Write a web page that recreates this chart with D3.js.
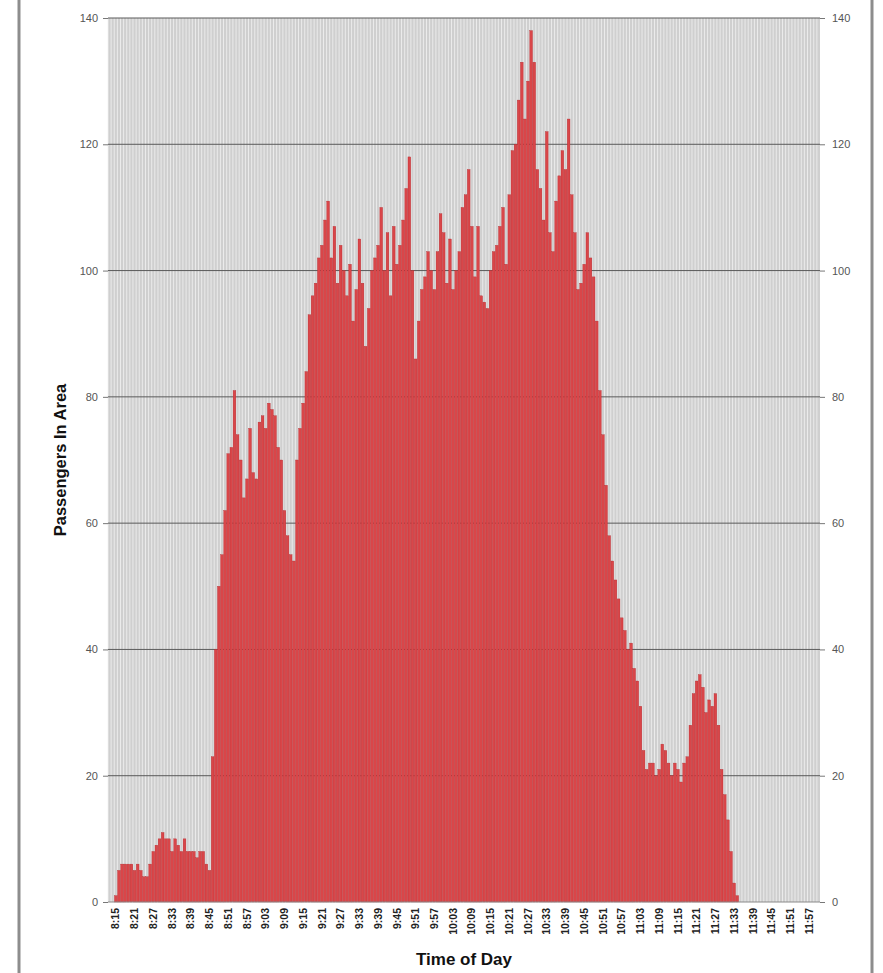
<!DOCTYPE html>
<html>
<head>
<meta charset="utf-8">
<script src="https://cdn.jsdelivr.net/npm/d3@7/dist/d3.min.js"></script>
<style>
  html, body { margin: 0; padding: 0; background: #fff; }
  svg { display: block; font-family: Arial, "Liberation Sans", sans-serif; }
</style>
</head>
<body>
<svg id="chart" width="883" height="973"></svg>
<script>
// Passengers counted in the area, one reading per minute from 8:13 to 12:00
const firstMinute = "8:13";
const lastMinute = "12:00";

const passengers = [
  0, 0, 1, 5, 6, 6, 6, 6, 5, 6,
  5, 4, 4, 6, 8, 9, 10, 11, 10, 10,
  8, 10, 9, 8, 10, 8, 8, 8, 7, 8,
  8, 6, 5, 23, 40, 50, 55, 62, 71, 72,
  81, 74, 70, 64, 67, 75, 68, 67, 76, 77,
  75, 79, 78, 77, 72, 70, 62, 58, 55, 54,
  70, 75, 79, 84, 93, 96, 98, 102, 104, 108,
  111, 102, 107, 98, 104, 100, 96, 101, 92, 97,
  105, 98, 88, 94, 100, 102, 104, 110, 100, 106,
  96, 107, 101, 104, 108, 113, 118, 100, 86, 92,
  97, 99, 103, 100, 97, 103, 109, 106, 98, 105,
  97, 100, 103, 110, 112, 116, 107, 99, 107, 96,
  95, 94, 100, 103, 104, 107, 110, 101, 112, 119,
  120, 127, 133, 124, 130, 138, 133, 116, 113, 108,
  122, 106, 103, 111, 115, 119, 116, 124, 112, 106,
  97, 98, 101, 106, 102, 99, 92, 81, 74, 66,
  58, 54, 51, 48, 45, 43, 40, 41, 37, 35,
  31, 24, 21, 22, 22, 20, 21, 25, 24, 22,
  20, 22, 21, 19, 22, 23, 28, 33, 35, 36,
  34, 30, 32, 31, 33, 28, 21, 17, 13, 8,
  3, 1, 0, 0, 0, 0, 0, 0, 0, 0,
  0, 0, 0, 0, 0, 0, 0, 0, 0, 0,
  0, 0, 0, 0, 0, 0, 0, 0
];

const timeTicks = [
  "8:15", "8:21", "8:27", "8:33", "8:39", "8:45", "8:51", "8:57",
  "9:03", "9:09", "9:15", "9:21", "9:27", "9:33", "9:39", "9:45",
  "9:51", "9:57", "10:03", "10:09", "10:15", "10:21", "10:27", "10:33",
  "10:39", "10:45", "10:51", "10:57", "11:03", "11:09", "11:15", "11:21",
  "11:27", "11:33", "11:39", "11:45", "11:51", "11:57"
];

const yTicks = [0, 20, 40, 60, 80, 100, 120, 140];

// Build the minute categories for the band scale
const parseHM = d3.timeParse("%H:%M");
const fmtHM = d => d.getHours() + ":" + d3.timeFormat("%M")(d);
const minutes = d3.timeMinute.range(parseHM(firstMinute), d3.timeMinute.offset(parseHM(lastMinute), 1)).map(fmtHM);
const data = minutes.map((m, i) => ({ time: m, value: passengers[i] }));

const svg = d3.select("#chart");
const plot = { left: 108, right: 820, top: 18, bottom: 902 };
const font = "Arial, 'Liberation Sans', sans-serif";

const x = d3.scaleBand().domain(minutes).range([plot.left, plot.right]).paddingInner(0.12).paddingOuter(0.06);
const y = d3.scaleLinear().domain([0, 140]).range([plot.bottom, plot.top]);

// Outer frame edges
svg.append("line").attr("x1", 19).attr("x2", 19).attr("y1", 0).attr("y2", 973)
  .attr("stroke", "#8d8d8d").attr("stroke-width", 3);
svg.append("line").attr("x1", 872).attr("x2", 872).attr("y1", 0).attr("y2", 973)
  .attr("stroke", "#8d8d8d").attr("stroke-width", 3);

// Plot background
svg.append("rect")
  .attr("x", plot.left).attr("y", plot.top)
  .attr("width", plot.right - plot.left).attr("height", plot.bottom - plot.top)
  .attr("fill", "#cfcfcf");

// Light vertical separators between minute categories
const step = x.step();
svg.append("g").selectAll("line")
  .data(minutes)
  .join("line")
  .attr("x1", d => x(d) - step * x.paddingInner() / 2)
  .attr("x2", d => x(d) - step * x.paddingInner() / 2)
  .attr("y1", plot.top).attr("y2", plot.bottom)
  .attr("stroke", "#f4f4f4").attr("stroke-width", 0.9).attr("opacity", 0.85);

// Horizontal gridlines
svg.append("g").selectAll("line")
  .data(yTicks.filter(v => v > 0))
  .join("line")
  .attr("x1", plot.left).attr("x2", plot.right)
  .attr("y1", d => y(d)).attr("y2", d => y(d))
  .attr("stroke", "#5a5a5a").attr("stroke-width", 1);

// Bars
svg.append("g").selectAll("rect")
  .data(data.filter(d => d.value > 0))
  .join("rect")
  .attr("x", d => x(d.time))
  .attr("width", x.bandwidth())
  .attr("y", d => y(d.value))
  .attr("height", d => y(0) - y(d.value))
  .attr("fill", "#d94649")
  .attr("stroke", "#b3272c")
  .attr("stroke-width", 0.35);

// Baseline
svg.append("line").attr("x1", plot.left).attr("x2", plot.right)
  .attr("y1", y(0)).attr("y2", y(0)).attr("stroke", "#8a8a8a").attr("stroke-width", 1);

// Left value axis
const leftAxis = d3.axisLeft(y).tickValues(yTicks).tickSize(5).tickPadding(5);
const gl = svg.append("g").attr("transform", `translate(${plot.left},0)`).call(leftAxis);
gl.select(".domain").remove();
gl.selectAll(".tick line").attr("stroke", "#777");
gl.selectAll(".tick text").attr("font-size", 11).attr("fill", "#555").attr("font-family", font);

// Right value axis
const rightAxis = d3.axisRight(y).tickValues(yTicks).tickSize(5).tickPadding(7);
const gr = svg.append("g").attr("transform", `translate(${plot.right},0)`).call(rightAxis);
gr.select(".domain").remove();
gr.selectAll(".tick line").attr("stroke", "#777");
gr.selectAll(".tick text").attr("font-size", 11).attr("fill", "#555").attr("font-family", font);

// Time axis labels, rotated
const bottomAxis = d3.axisBottom(x).tickValues(timeTicks).tickSize(0).tickPadding(0);
const gb = svg.append("g").attr("transform", `translate(0,${plot.bottom})`).call(bottomAxis);
gb.select(".domain").remove();
gb.selectAll(".tick text")
  .attr("font-size", 10.5)
  .attr("font-weight", "bold")
  .attr("fill", "#222")
  .attr("font-family", font)
  .attr("text-anchor", "end")
  .attr("dy", "0.35em")
  .attr("y", 0)
  .attr("transform", "translate(0,6) rotate(-90)");

// Axis titles
svg.append("text")
  .attr("transform", "translate(66,460) rotate(-90)")
  .attr("text-anchor", "middle")
  .attr("font-family", font)
  .attr("font-size", 16.5).attr("font-weight", "bold").attr("fill", "#111")
  .text("Passengers In Area");

svg.append("text")
  .attr("x", 464).attr("y", 965)
  .attr("text-anchor", "middle")
  .attr("font-family", font)
  .attr("font-size", 17).attr("font-weight", "bold").attr("fill", "#111")
  .text("Time of Day");
</script>
</body>
</html>
